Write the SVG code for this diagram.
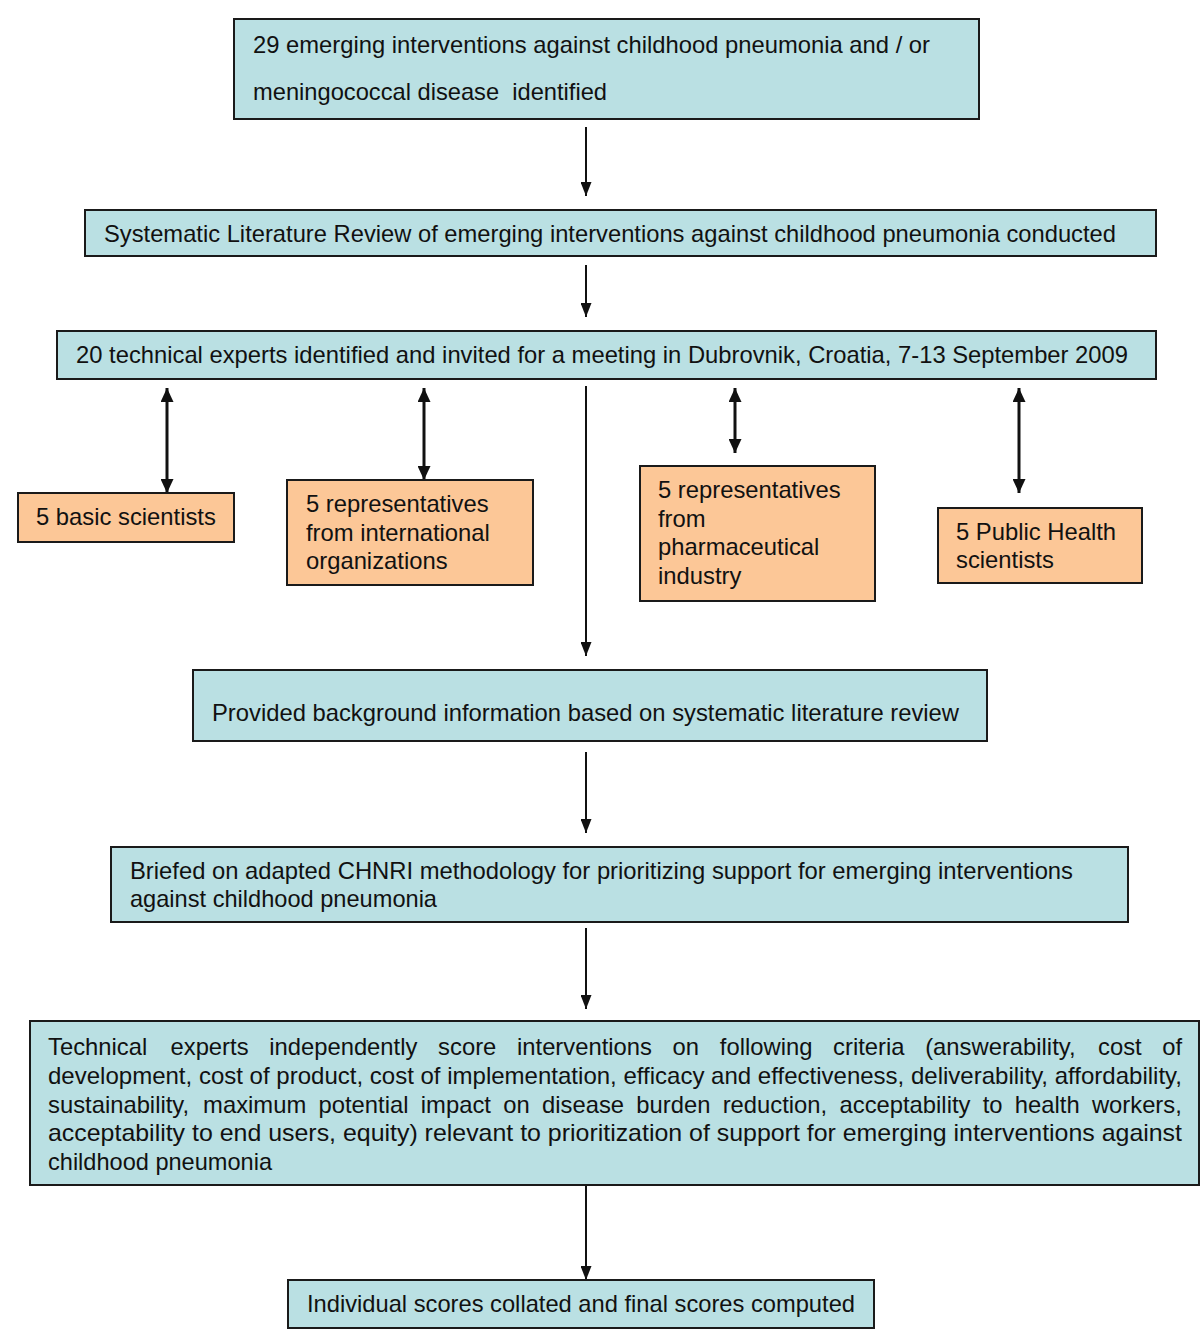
<svg xmlns="http://www.w3.org/2000/svg" width="1200" height="1329" viewBox="0 0 1200 1329">
<defs>
<style>
.b{fill:#BAE0E3;stroke:#1a1a1a;stroke-width:2}
.o{fill:#FCC797;stroke:#1a1a1a;stroke-width:2}
text{font-family:"Liberation Sans",Arial,sans-serif;font-size:23.8px;fill:#111}
.c{stroke:#111;stroke-width:2;fill:none}
.d{stroke:#111;stroke-width:3;fill:none}
</style>
<marker id="ah" viewBox="0 0 10 10" refX="10" refY="5" markerWidth="14" markerHeight="11" markerUnits="userSpaceOnUse" preserveAspectRatio="none" orient="auto"><path d="M0,0L10,5L0,10z" fill="#111"/></marker>
<marker id="ah2" viewBox="0 0 10 10" refX="10" refY="5" markerWidth="14" markerHeight="13" markerUnits="userSpaceOnUse" preserveAspectRatio="none" orient="auto-start-reverse"><path d="M0,0L10,5L0,10z" fill="#111"/></marker>
</defs>
<rect width="1200" height="1329" fill="#fff"/>
<g id="connectors">
<line class="c" x1="586" y1="127" x2="586" y2="196" marker-end="url(#ah)"/>
<line class="c" x1="586" y1="265" x2="586" y2="317" marker-end="url(#ah)"/>
<line class="c" x1="586" y1="386" x2="586" y2="656" marker-end="url(#ah)"/>
<line class="c" x1="586" y1="752" x2="586" y2="833" marker-end="url(#ah)"/>
<line class="c" x1="586" y1="928" x2="586" y2="1009" marker-end="url(#ah)"/>
<line class="c" x1="586" y1="1186" x2="586" y2="1280" marker-end="url(#ah)"/>
<line class="d" x1="167" y1="388" x2="167" y2="493" marker-start="url(#ah2)" marker-end="url(#ah2)"/>
<line class="d" x1="424" y1="388" x2="424" y2="480" marker-start="url(#ah2)" marker-end="url(#ah2)"/>
<line class="d" x1="735" y1="388" x2="735" y2="453" marker-start="url(#ah2)" marker-end="url(#ah2)"/>
<line class="d" x1="1019" y1="388" x2="1019" y2="493" marker-start="url(#ah2)" marker-end="url(#ah2)"/>
</g>
<g id="n1"><rect class="b" x="234" y="19" width="745" height="100"/>
<text x="253" y="53" textLength="677" lengthAdjust="spacingAndGlyphs">29 emerging interventions against childhood pneumonia and / or</text>
<text x="253" y="100" textLength="354" lengthAdjust="spacingAndGlyphs" xml:space="preserve">meningococcal disease  identified</text></g>
<g id="n2"><rect class="b" x="85" y="210" width="1071" height="46"/>
<text x="104" y="242" textLength="1012" lengthAdjust="spacingAndGlyphs">Systematic Literature Review of emerging interventions against childhood pneumonia conducted</text></g>
<g id="n3"><rect class="b" x="57" y="331" width="1099" height="48"/>
<text x="76" y="363" textLength="1052" lengthAdjust="spacingAndGlyphs">20 technical experts identified and invited for a meeting in Dubrovnik, Croatia, 7-13 September 2009</text></g>
<g id="n4"><rect class="o" x="18" y="493" width="216" height="49"/>
<text x="36" y="525">5 basic scientists</text></g>
<g id="n5"><rect class="o" x="287" y="480" width="246" height="105"/>
<text x="306" y="512">5 representatives</text>
<text x="306" y="541">from international</text>
<text x="306" y="569">organizations</text></g>
<g id="n6"><rect class="o" x="640" y="466" width="235" height="135"/>
<text x="658" y="498">5 representatives</text>
<text x="658" y="527">from</text>
<text x="658" y="555">pharmaceutical</text>
<text x="658" y="584">industry</text></g>
<g id="n7"><rect class="o" x="938" y="508" width="204" height="75"/>
<text x="956" y="540">5 Public Health</text>
<text x="956" y="568">scientists</text></g>
<g id="n8"><rect class="b" x="193" y="670" width="794" height="71"/>
<text x="212" y="721" textLength="747" lengthAdjust="spacingAndGlyphs">Provided background information based on systematic literature review</text></g>
<g id="n9"><rect class="b" x="111" y="847" width="1017" height="75"/>
<text x="130" y="879" textLength="943" lengthAdjust="spacingAndGlyphs">Briefed on adapted CHNRI methodology for prioritizing support for emerging interventions</text>
<text x="130" y="907" textLength="307" lengthAdjust="spacingAndGlyphs">against childhood pneumonia</text></g>
<g id="n10"><rect class="b" x="30" y="1021" width="1169" height="164"/>
<text y="1055"><tspan x="48">Technical</tspan><tspan x="170.5">experts</tspan><tspan x="269.2">independently</tspan><tspan x="438.1">score</tspan><tspan x="517">interventions</tspan><tspan x="672.6">on</tspan><tspan x="719.8">following</tspan><tspan x="833.1">criteria</tspan><tspan x="925.2">(answerability,</tspan><tspan x="1098">cost</tspan><tspan x="1162.3">of</tspan></text>
<text x="48" y="1084" textLength="1134" lengthAdjust="spacingAndGlyphs">development, cost of product, cost of implementation, efficacy and effectiveness, deliverability, affordability,</text>
<text y="1113"><tspan x="48">sustainability,</tspan><tspan x="203.1">maximum</tspan><tspan x="318.5">potential</tspan><tspan x="420.8">impact</tspan><tspan x="503.2">on</tspan><tspan x="542">disease</tspan><tspan x="636.3">burden</tspan><tspan x="722.7">reduction,</tspan><tspan x="839.5">acceptability</tspan><tspan x="982.7">to</tspan><tspan x="1014.8">health</tspan><tspan x="1091.9">workers,</tspan></text>
<text x="48" y="1141" textLength="1134" lengthAdjust="spacingAndGlyphs">acceptability to end users, equity) relevant to prioritization of support for emerging interventions against</text>
<text x="48" y="1170" textLength="224" lengthAdjust="spacingAndGlyphs">childhood pneumonia</text></g>
<g id="n11"><rect class="b" x="288" y="1280" width="586" height="48"/>
<text x="307" y="1312" textLength="548" lengthAdjust="spacingAndGlyphs">Individual scores collated and final scores computed</text></g>
</svg>
